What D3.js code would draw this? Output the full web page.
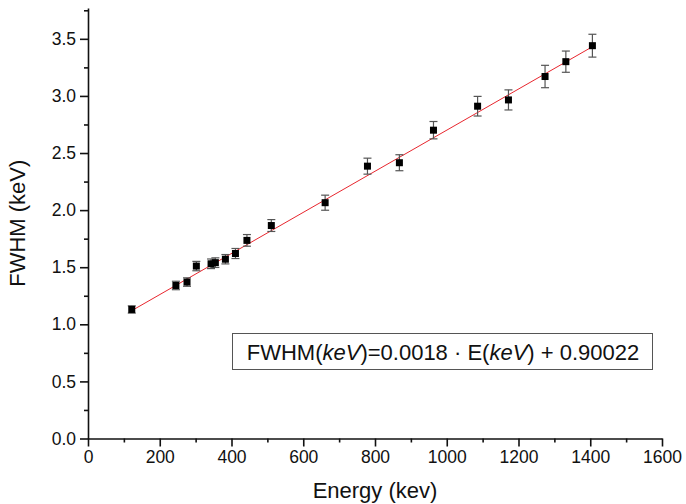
<!DOCTYPE html>
<html>
<head>
<meta charset="utf-8">
<script src="https://cdn.jsdelivr.net/npm/d3@7"></script>
<style>
  body { margin: 0; background: #fff; }
  svg { font-family: "Liberation Sans", Arial, sans-serif; }
</style>
</head>
<body>
<div id="chart"></div>
<script>
// measured peaks (keV) and their FWHM (keV) with errors
var energies = [122, 245, 276, 302, 343, 355, 383, 411, 443, 511, 661, 779, 868, 963, 1086, 1172, 1274, 1332, 1406];
var fwhm = [1.13, 1.34, 1.37, 1.51, 1.53, 1.54, 1.57, 1.62, 1.735, 1.865, 2.065, 2.385, 2.415, 2.70, 2.91, 2.965, 3.17, 3.30, 3.44];
var errs = [0.032, 0.037, 0.037, 0.041, 0.042, 0.042, 0.041, 0.044, 0.051, 0.052, 0.066, 0.07, 0.07, 0.076, 0.086, 0.088, 0.098, 0.093, 0.10];

var slope = 0.0018, intercept = 0.90022;
var xTicks = [0, 200, 400, 600, 800, 1000, 1200, 1400, 1600];
var yTicks = [0.0, 0.5, 1.0, 1.5, 2.0, 2.5, 3.0, 3.5];

var svgWidth = 686, svgHeight = 504;
var margin = { top: 8, right: 24, bottom: 65.5, left: 88 };
var width = svgWidth - margin.left - margin.right;
var height = svgHeight - margin.top - margin.bottom;

var svg = d3.select('#chart').append('svg')
  .attr('width', svgWidth)
  .attr('height', svgHeight);

var x = d3.scaleLinear().domain([0, 1600]).range([0, width]);
var y = d3.scaleLinear().domain([0, 3.77]).range([height, 0]);

var g = svg.append('g')
  .attr('transform', 'translate(' + margin.left + ',' + margin.top + ')');

// minor ticks first
g.append('g')
  .attr('transform', 'translate(0,' + height + ')')
  .call(d3.axisBottom(x).tickValues(d3.range(100, 1600, 200)).tickSize(4).tickFormat(''))
  .call(function (s) { s.select('.domain').remove(); });
g.append('g')
  .call(d3.axisLeft(y).tickValues(d3.range(0.25, 3.76, 0.5)).tickSize(4).tickFormat(''))
  .call(function (s) { s.select('.domain').remove(); });

// axis-x
var xAxis = g.append('g')
  .attr('transform', 'translate(0,' + height + ')')
  .call(d3.axisBottom(x).tickValues(xTicks).tickSize(8).tickSizeOuter(0).tickPadding(4).tickFormat(d3.format('d')));
xAxis.selectAll('text').attr('font-size', '17.5px').attr('fill', '#111');

// axis-y
var yAxis = g.append('g')
  .call(d3.axisLeft(y).tickValues(yTicks).tickSize(8).tickSizeOuter(0).tickPadding(4).tickFormat(d3.format('.1f')));
yAxis.selectAll('text').attr('font-size', '17.5px').attr('fill', '#111');

g.selectAll('.domain, .tick line').attr('stroke', '#111').attr('stroke-width', 1.6);

// fit line
var fit = d3.line()
  .x(function (d) { return x(d); })
  .y(function (d) { return y(slope * d + intercept); });
g.append('path')
  .attr('d', fit([energies[0], energies[energies.length - 1]]))
  .attr('fill', 'none')
  .attr('stroke', '#e8262e')
  .attr('stroke-width', 1);

// error bars
var eb = g.selectAll('.eb').data(energies).enter().append('g').attr('class', 'eb');
eb.append('line')
  .attr('x1', function (d) { return x(d); })
  .attr('x2', function (d) { return x(d); })
  .attr('y1', function (d, i) { return y(fwhm[i] - errs[i]); })
  .attr('y2', function (d, i) { return y(fwhm[i] + errs[i]); });
eb.append('line')
  .attr('x1', function (d) { return x(d) - 4; })
  .attr('x2', function (d) { return x(d) + 4; })
  .attr('y1', function (d, i) { return y(fwhm[i] + errs[i]); })
  .attr('y2', function (d, i) { return y(fwhm[i] + errs[i]); });
eb.append('line')
  .attr('x1', function (d) { return x(d) - 4; })
  .attr('x2', function (d) { return x(d) + 4; })
  .attr('y1', function (d, i) { return y(fwhm[i] - errs[i]); })
  .attr('y2', function (d, i) { return y(fwhm[i] - errs[i]); });
eb.selectAll('line').attr('stroke', '#555').attr('stroke-width', 1.2);

// points
g.selectAll('.pt').data(energies).enter().append('rect')
  .attr('class', 'pt')
  .attr('x', function (d) { return x(d) - 3.5; })
  .attr('y', function (d, i) { return y(fwhm[i]) - 3.5; })
  .attr('width', 7)
  .attr('height', 7)
  .attr('fill', '#000');

// equation box
svg.append('rect')
  .attr('x', 232.5).attr('y', 333.5)
  .attr('width', 420).attr('height', 36)
  .attr('fill', '#fff').attr('stroke', '#555').attr('stroke-width', 1);
var eq = svg.append('text')
  .attr('x', 443).attr('y', 360)
  .attr('text-anchor', 'middle')
  .attr('font-size', '22px')
  .attr('fill', '#111');
eq.append('tspan').text('FWHM(');
eq.append('tspan').attr('font-style', 'italic').text('keV');
eq.append('tspan').text(')=0.0018 \u00b7 E(');
eq.append('tspan').attr('font-style', 'italic').text('keV');
eq.append('tspan').text(') + 0.90022');

// axis titles
svg.append('text')
  .attr('x', margin.left + width / 2).attr('y', 498)
  .attr('text-anchor', 'middle')
  .attr('font-size', '22px').attr('fill', '#111')
  .text('Energy (kev)');
svg.append('text')
  .attr('transform', 'translate(25,' + (margin.top + height / 2) + ') rotate(-90)')
  .attr('text-anchor', 'middle')
  .attr('font-size', '22px').attr('fill', '#111')
  .text('FWHM (keV)');
</script>
</body>
</html>
